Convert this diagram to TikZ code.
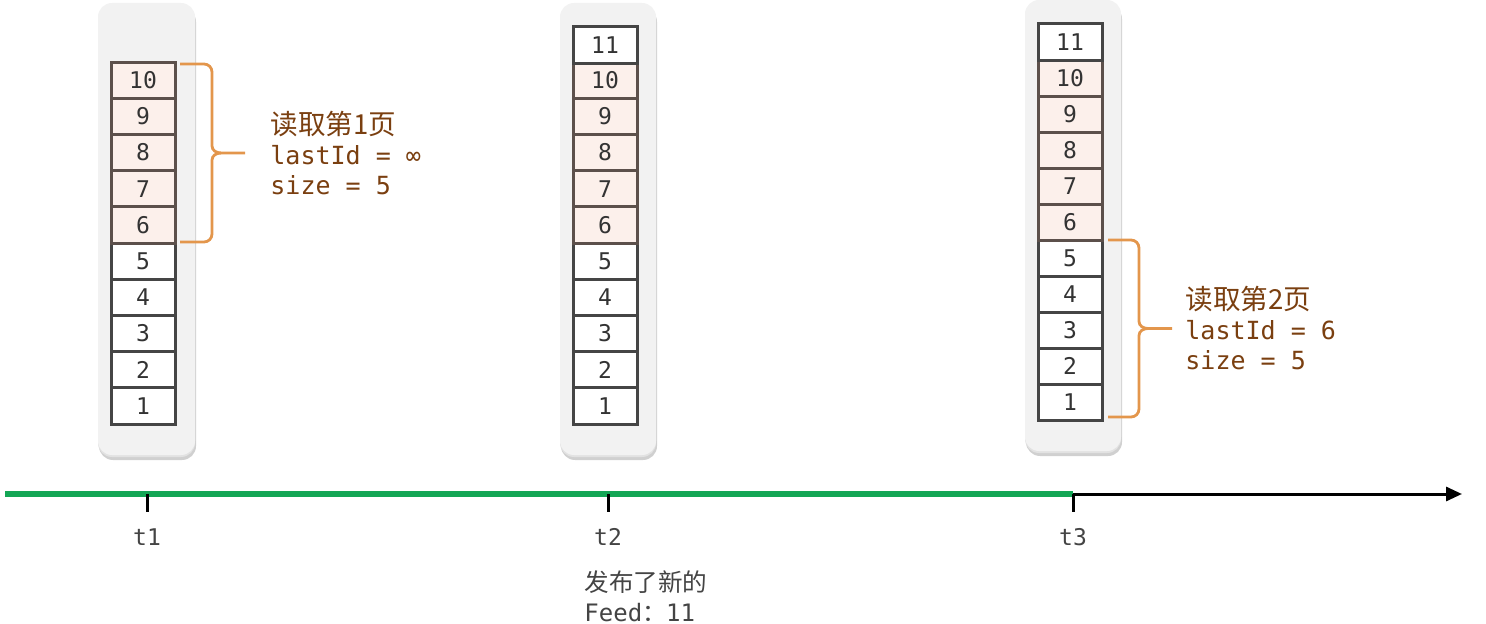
\documentclass[tikz,border=0pt]{standalone}
\usepackage{fontspec}
\setmonofont{DejaVu Sans Mono}
\newfontfamily\cjk{Noto Sans CJK SC}
\usetikzlibrary{arrows.meta}
\definecolor{panelbg}{HTML}{F2F2F2}
\definecolor{shadowA}{HTML}{D0D0D0}
\definecolor{shadowB}{HTML}{E2E2E2}
\definecolor{cellline}{HTML}{454545}
\definecolor{shadeline}{HTML}{5C504B}
\definecolor{shadefill}{HTML}{FCF0EB}
\definecolor{bracecol}{HTML}{E3964C}
\definecolor{labelcol}{HTML}{7A3F10}
\definecolor{greyText}{HTML}{444444}
\definecolor{lineGreen}{HTML}{14A655}
\tikzset{
  panel/.style={fill=panelbg, rounded corners=7pt, draw=none},
  cell/.style={draw=cellline, fill=white, line width=1.5pt, minimum width=32pt, minimum height=18.1pt, inner sep=0pt,
    font=\ttfamily\fontsize{11.5}{12}\selectfont, text=black!80},
  shcell/.style={cell, draw=shadeline, fill=shadefill},
  brace/.style={draw=bracecol, line width=1.4pt, rounded corners=0pt},
  lab/.style={anchor=west, align=left, text=labelcol, inner sep=0pt, font=\ttfamily\fontsize{12.5}{15}\selectfont},
  tlab/.style={text=greyText, font=\ttfamily\fontsize{11.5}{14}\selectfont, inner sep=0pt},
  tick/.style={draw=black, line width=1.5pt},
}
\newcommand\mypanel[4]{%
  \fill[shadowA, rounded corners=7pt] (#1+1,#2+5) rectangle (#3+1,#4+5);
  \fill[shadowB, rounded corners=7pt] (#1,#2+2) rectangle (#3,#4+2);
  \fill[panel] (#1,#2) rectangle (#3,#4);
}
\newcommand\mybrace[5]{%
  \pgfmathsetmacro\ym{(#4+#5)/2}
  \draw[brace] (#1,#4) -- (#2-8,#4) to[out=0,in=90] (#2,#4+8) -- (#2,\ym-7)
    to[out=-90,in=180] (#2+9,\ym) -- (#3,\ym);
  \draw[brace] (#2+9,\ym) to[out=180,in=90] (#2,\ym+7) -- (#2,#5-8)
    to[out=-90,in=0] (#2-8,#5) -- (#1,#5);
}
\begin{document}
\begin{tikzpicture}[x=0.5pt,y=-0.5pt]
\useasboundingbox (0,0) rectangle (1486,624);
% panels
\mypanel{98}{3}{195}{455}
\mypanel{560}{3}{656}{455}
\mypanel{1025}{0}{1121}{451}
% column 1
\foreach \i in {1,...,5} \node[cell] (a\i) at (143,{406-(\i-1)*36.2}) {\i};
\foreach \i in {6,...,10} \node[shcell] (a\i) at (143,{406-(\i-1)*36.2}) {\i};
% column 2
\foreach \i in {1,...,5} \node[cell] (b\i) at (605,{406-(\i-1)*36.2}) {\i};
\foreach \i in {6,...,10} \node[shcell] (b\i) at (605,{406-(\i-1)*36.2}) {\i};
\node[cell] (b11) at (605,{407-10*36.2}) {11};
% column 3
\foreach \i in {1,...,5} \node[cell] (c\i) at (1070,{402-(\i-1)*36}) {\i};
\foreach \i in {6,...,10} \node[shcell] (c\i) at (1070,{402-(\i-1)*36}) {\i};
\node[cell] (c11) at (1070,{402-10*36}) {11};
% braces
\mybrace{180}{212}{245}{64}{242}
\mybrace{1108}{1139}{1172}{240}{417}
% labels
\node[lab] (l1) at (270,153) {{\cjk\fontsize{13.8}{15}\selectfont 读取第1页}\\lastId = ∞\\size = 5};
\node[lab] (l2) at (1185,328) {{\cjk\fontsize{13.8}{15}\selectfont 读取第2页}\\lastId = 6\\size = 5};
% timeline
\coordinate (s) at (5,494);
\coordinate (p1) at (147,494);
\coordinate (p2) at (608,494);
\coordinate (p3) at (1073,494);
\coordinate (e) at (1462,494);
\draw[black, line width=1.5pt, -{Triangle[length=8pt,width=7pt]}] (p3) -- (e);
\draw[lineGreen, line width=2.6pt] (s) -- (p3);
\draw[tick] (p1) -- ++(0,18);
\draw[tick] (p2) -- ++(0,18);
\draw[tick] (p3) -- ++(0,18);
\node[tlab] (t1) at (147,537) {t1};
\node[tlab] (t2) at (608,537) {t2};
\node[tlab] (t3) at (1073,537) {t3};
\node[tlab, anchor=west, align=left, font=\ttfamily\fontsize{12}{15}\selectfont] (pub) at (584,596) {{\cjk\fontsize{12.3}{15}\selectfont 发布了新的}\\Feed{\cjk ：}11};
\end{tikzpicture}
\end{document}
